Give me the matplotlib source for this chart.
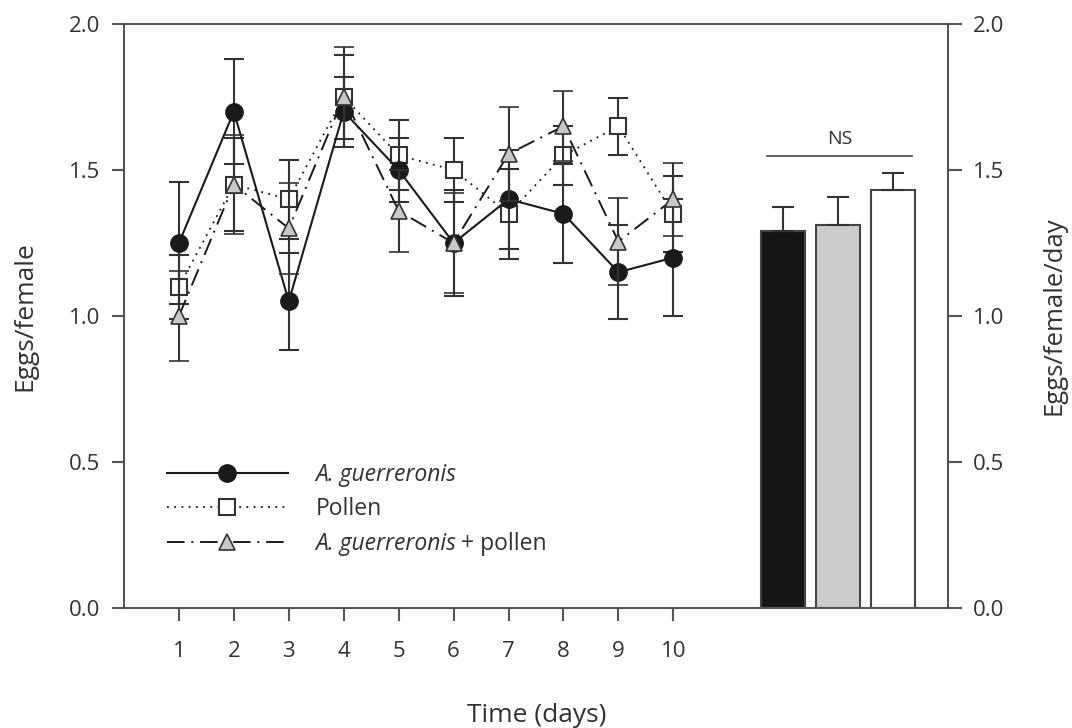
import matplotlib
matplotlib.use("Agg")
import matplotlib.pyplot as plt
from matplotlib.lines import Line2D

plt.rcParams["font.family"] = ["Open Sans", "DejaVu Sans"]

# daily egg production (Eggs/female) with SE
days = [1, 2, 3, 4, 5, 6, 7, 8, 9, 10]
ag_mean = [1.25, 1.70, 1.05, 1.70, 1.50, 1.25, 1.40, 1.35, 1.15, 1.20]
ag_se = [0.21, 0.18, 0.165, 0.12, 0.11, 0.18, 0.17, 0.17, 0.16, 0.20]
pol_mean = [1.10, 1.45, 1.40, 1.75, 1.55, 1.50, 1.35, 1.55, 1.65, 1.35]
pol_se = [0.11, 0.16, 0.135, 0.145, 0.12, 0.11, 0.155, 0.10, 0.097, 0.13]
agp_mean = [1.00, 1.45, 1.30, 1.75, 1.36, 1.25, 1.555, 1.65, 1.255, 1.40]
agp_se = [0.155, 0.17, 0.155, 0.17, 0.14, 0.17, 0.16, 0.12, 0.15, 0.125]

# overall mean (Eggs/female/day)
bar_pos = [12, 13, 14]
bar_mean = [1.29, 1.31, 1.43]
bar_se = [0.085, 0.097, 0.06]
bar_colors = ["#151515", "#cccccc", "#ffffff"]

labels = ["A. guerreronis", "Pollen", "A. guerreronis"]
yticks = [0.0, 0.5, 1.0, 1.5, 2.0]

dark = "#1a1a1a"
axcol = "#555555"
txtcol = "#333333"
dashdot = (0, (9, 3.5, 1, 3.5))

fig = plt.figure(figsize=(10.72, 7.28), dpi=100)
ax = fig.add_axes([124 / 1072, 1 - 608 / 728, 824 / 1072, 584 / 728])

err_kw = dict(ecolor="#333333", elinewidth=1.5, capsize=7.5, capthick=1.5)

ax.errorbar(days, pol_mean, yerr=pol_se, color=dark, ls=(0, (1, 3)), lw=1.3,
            marker="s", ms=11, mfc="white", mec="#333333", mew=1.5, zorder=3, **err_kw)
ax.errorbar(days, ag_mean, yerr=ag_se, color=dark, ls="-", lw=1.5,
            marker="o", ms=12.5, mfc=dark, mec=dark, zorder=4, **err_kw)
ax.errorbar(days, agp_mean, yerr=agp_se, color=dark, ls=dashdot, lw=1.4,
            marker="^", ms=12, mfc="#c8c8c8", mec="#333333", mew=1.2, zorder=5, **err_kw)

ax.bar(bar_pos, bar_mean, width=0.8, color=bar_colors, edgecolor="#444444", linewidth=1.5,
       yerr=[[0, 0, 0], bar_se], error_kw=dict(ecolor="#333333", elinewidth=1.5,
                                               capsize=8, capthick=1.5), zorder=2)

ax.plot([11.7, 14.35], [1.548, 1.548], color="#555555", lw=1.3)
ax.text(13.03, 1.575, "NS", ha="center", va="bottom", fontsize=14, color=txtcol)

ax.set_xlim(0, 15)
ax.set_ylim(0, 2.0)
ax.set_xticks(days)
ax.set_yticks(yticks)
ax.set_yticklabels([f"{v:.1f}" for v in yticks])

for sp in ax.spines.values():
    sp.set_color(axcol)
    sp.set_linewidth(1.5)
ax.tick_params(axis="both", direction="out", colors=axcol, labelcolor=txtcol,
               labelsize=16, width=1.5)
ax.tick_params(axis="x", length=9, pad=15)
ax.tick_params(axis="y", length=9, pad=8)

ax2 = ax.twinx()
ax2.set_ylim(0, 2.0)
ax2.set_yticks(yticks)
ax2.set_yticklabels([f"{v:.1f}" for v in yticks])
ax2.tick_params(axis="y", direction="out", colors=axcol, labelcolor=txtcol,
                labelsize=16, width=1.5, length=10, pad=8)
for sp in ax2.spines.values():
    sp.set_visible(False)

ax.set_ylabel("Eggs/female", fontsize=19, color=txtcol)
ax.yaxis.set_label_coords(-0.105, 0.5)
ax2.set_ylabel("Eggs/female/day", fontsize=18.5, color=txtcol, va="center")
ax2.yaxis.set_label_coords(1.129, 0.5)
ax.set_xlabel("Time (days)", fontsize=19, color=txtcol)
ax.xaxis.set_label_coords(0.501, -0.162)

handles = [
    Line2D([], [], color=dark, ls="-", lw=1.5, marker="o", ms=12.5, mfc=dark, mec=dark),
    Line2D([], [], color=dark, ls=(0, (1, 3)), lw=1.3, marker="s", ms=11,
           mfc="white", mec="#333333", mew=1.5),
    Line2D([], [], color=dark, ls=dashdot, lw=1.4, marker="^", ms=12,
           mfc="#c8c8c8", mec="#333333", mew=1.2),
]
fs_leg = 16.5
leg = ax.legend(handles, labels, loc="upper left", bbox_to_anchor=(0.038, 0.268),
                frameon=False, fontsize=fs_leg, handlelength=5.3, handletextpad=1.2,
                labelspacing=0.45, numpoints=1, borderpad=0)
for t in leg.get_texts():
    t.set_color(txtcol)
leg.get_texts()[0].set_fontstyle("italic")
leg.get_texts()[2].set_fontstyle("italic")

# upright "+ pollen" after the italic species name in the third entry
fig.canvas.draw()
t3 = leg.get_texts()[2]
bb = t3.get_window_extent()
inv = fig.transFigure.inverted()
x1, y1 = inv.transform((bb.x1, (bb.y0 + bb.y1) / 2))
fig.text(x1 + 0.004, y1, "+ pollen", fontsize=fs_leg, color=txtcol, va="center", ha="left")

fig.savefig("out.png", dpi=100)
